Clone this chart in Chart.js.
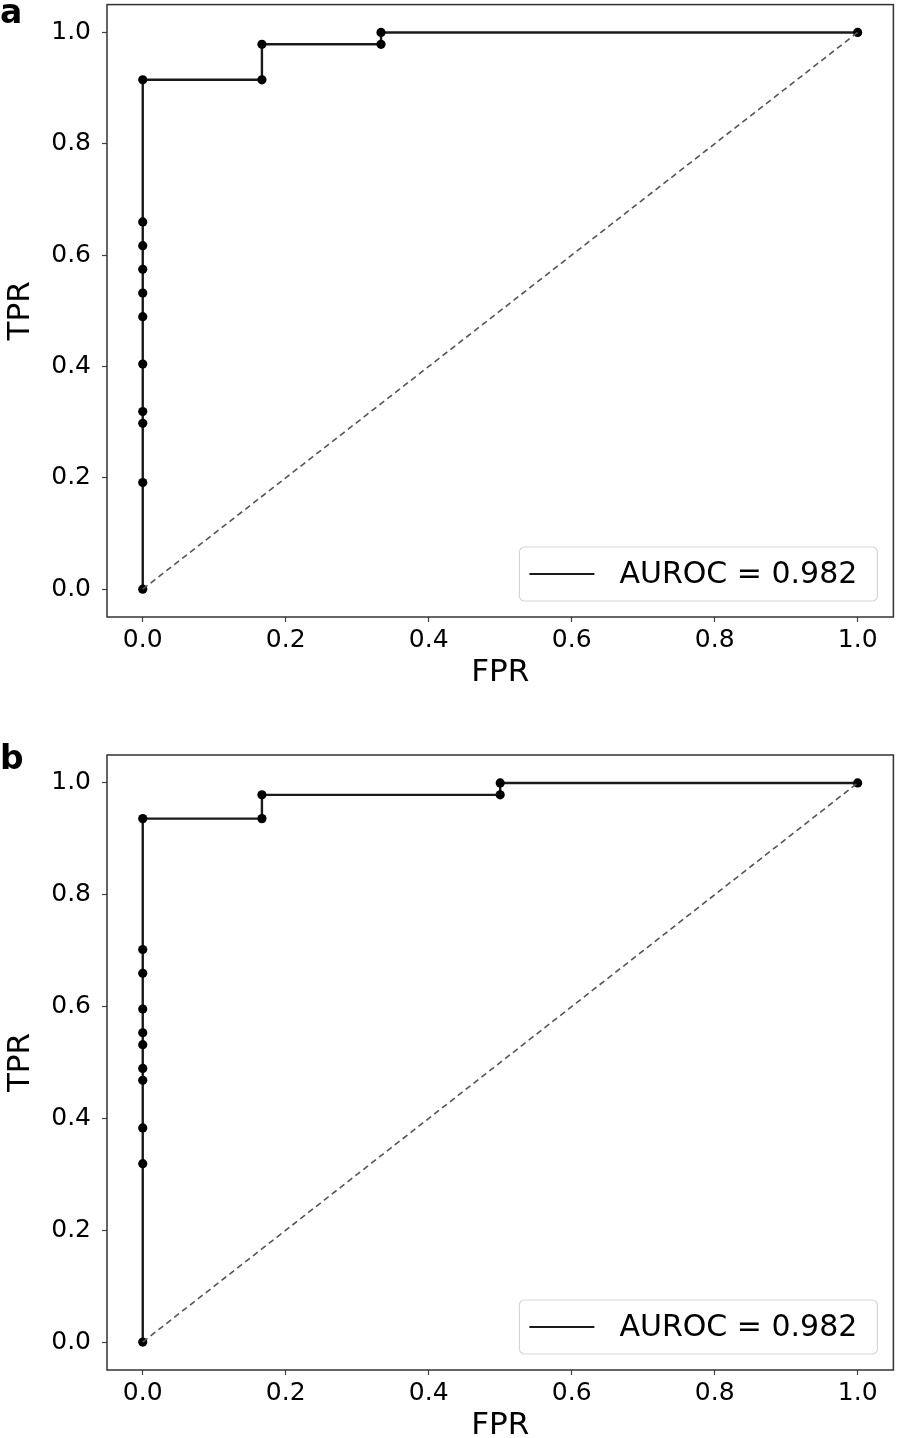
<!DOCTYPE html>
<html>
<head>
<meta charset="utf-8">
<script src="https://cdn.jsdelivr.net/npm/chart.js@4"></script>
<style>
  html, body { margin: 0; padding: 0; background: #fff; overflow: hidden; }
  #wrap { position: relative; width: 898px; height: 1438px; }
  canvas { position: absolute; left: 0; }
  .panel-label { position: absolute; left: 0; font: bold 33px "DejaVu Sans", sans-serif; color: #000; }
</style>
</head>
<body>
<div id="wrap">
  <canvas id="rocA" width="898" height="719" style="top:0;width:898px;height:719px"></canvas>
  <canvas id="rocB" width="898" height="719" style="top:719px;width:898px;height:719px"></canvas>
  <div class="panel-label" style="top:-8px">a</div>
  <div class="panel-label" style="top:738px">b</div>
</div>
<script>
// ROC points (FPR / TPR)
const fprA = [0, 0, 0, 0, 0, 0, 0, 0, 0, 0, 0, 0.1667, 0.1667, 0.3333, 0.3333, 1];
const tprA = [0, 0.1915, 0.2979, 0.3191, 0.4043, 0.4894, 0.5319, 0.5745, 0.617, 0.6596, 0.9149, 0.9149, 0.9787, 0.9787, 1, 1];

const fprB = [0, 0, 0, 0, 0, 0, 0, 0, 0, 0, 0, 0.1667, 0.1667, 0.5, 0.5, 1];
const tprB = [0, 0.3191, 0.383, 0.4681, 0.4894, 0.5319, 0.5532, 0.5957, 0.6596, 0.7021, 0.9362, 0.9362, 0.9787, 0.9787, 1, 1];

const chanceLine = [0, 1];
const tickValues = [0, 0.2, 0.4, 0.6, 0.8, 1.0];
const aurocLabel = "AUROC = 0.982";

const FONT = "'DejaVu Sans', sans-serif";

// box around the plot area + legend in the lower right corner
const framePlugin = {
  id: "frame",
  afterDatasetsDraw(chart) {
    const { ctx, chartArea } = chart;
    const a = chartArea;
    ctx.save();
    ctx.strokeStyle = "#333";
    ctx.lineWidth = 1.5;
    ctx.strokeRect(a.left, a.top, a.right - a.left, a.bottom - a.top);

    // legend
    const w = 358, h = 54;
    const x = a.right - 16 - w, y = a.bottom - 16 - h;
    ctx.beginPath();
    ctx.roundRect(x, y, w, h, 5);
    ctx.fillStyle = "rgba(255,255,255,0.8)";
    ctx.fill();
    ctx.strokeStyle = "#d6d6d6";
    ctx.lineWidth = 1.2;
    ctx.stroke();

    const ds = chart.data.datasets[0];
    ctx.beginPath();
    ctx.moveTo(x + 10, y + h / 2);
    ctx.lineTo(x + 75, y + h / 2);
    ctx.strokeStyle = ds.borderColor;
    ctx.lineWidth = 2;
    ctx.stroke();

    ctx.fillStyle = "#000";
    ctx.font = "30px " + FONT;
    ctx.textBaseline = "middle";
    ctx.textAlign = "left";
    ctx.fillText(ds.label, x + 100, y + h / 2 + 1);
    ctx.restore();
  },
};

// no extra margin from the edge tick labels
function noEdgePad(s) {
  s.paddingTop = 0;
  s.paddingBottom = 0;
  s.paddingLeft = 0;
  s.paddingRight = 0;
}

function makeRoc(id, fpr, tpr, padTop, xHeight) {
  const ctx = document.getElementById(id).getContext("2d");
  return new Chart(ctx, {
    type: "scatter",
    data: {
      datasets: [
        {
          label: aurocLabel,
          data: fpr.map((v, i) => ({ x: v, y: tpr[i] })),
          showLine: true,
          borderColor: "#1a1a1a",
          borderWidth: 2.4,
          backgroundColor: "#000",
          pointRadius: 4.6,
          pointBorderWidth: 0,
          pointBackgroundColor: "#000",
          tension: 0,
          order: 1,
        },
        {
          label: "chance",
          data: chanceLine.map((v) => ({ x: v, y: v })),
          showLine: true,
          borderColor: "#555",
          borderWidth: 1.6,
          borderDash: [6, 4],
          pointRadius: 0,
          order: 0,
        },
      ],
    },
    options: {
      responsive: false,
      animation: false,
      layout: { padding: { top: padTop, right: 2, left: 0, bottom: 0 } },
      plugins: {
        legend: { display: false },
        tooltip: { enabled: false },
      },
      scales: {
        x: {
          type: "linear",
          min: -0.05,
          max: 1.05,
          afterBuildTicks: (s) => { s.ticks = tickValues.map((v) => ({ value: v })); },
          afterFit: (s) => { s.height = xHeight; noEdgePad(s); },
          grid: { drawOnChartArea: false, drawTicks: true, tickLength: 5, tickColor: "#444", tickWidth: 1.2 },
          border: { display: false },
          ticks: {
            color: "#000",
            padding: 3,
            font: { family: FONT, size: 25 },
            callback: (v) => v.toFixed(1),
            maxRotation: 0,
          },
          title: {
            display: true,
            text: "FPR",
            color: "#000",
            font: { family: FONT, size: 31, lineHeight: 0.8 },
            padding: { top: 0, bottom: xHeight > 90 ? 34 : 0 },
          },
        },
        y: {
          type: "linear",
          min: -0.05,
          max: 1.05,
          afterBuildTicks: (s) => { s.ticks = tickValues.map((v) => ({ value: v })); },
          afterFit: (s) => { s.width = 107; noEdgePad(s); },
          grid: { drawOnChartArea: false, drawTicks: true, tickLength: 5, tickColor: "#444", tickWidth: 1.2 },
          border: { display: false },
          ticks: {
            color: "#000",
            padding: 11,
            font: { family: FONT, size: 25 },
            callback: (v) => v.toFixed(1),
          },
          title: {
            display: true,
            text: "TPR",
            color: "#000",
            font: { family: FONT, size: 31, lineHeight: 0.8 },
            padding: { top: 9, bottom: 0 },
          },
        },
      },
    },
    plugins: [framePlugin],
  });
}

makeRoc("rocA", fprA, tprA, 2, 102);
makeRoc("rocB", fprB, tprB, 36, 68);
</script>
</body>
</html>
